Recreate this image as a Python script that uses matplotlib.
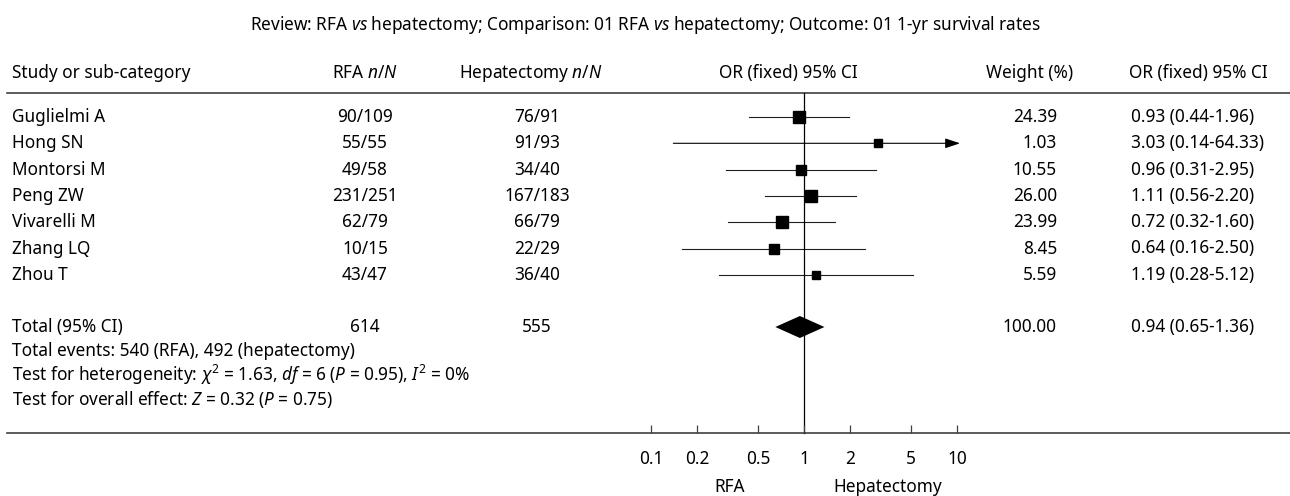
import numpy as np
import matplotlib
matplotlib.use("Agg")
import matplotlib.pyplot as plt


# data
studies = ["Guglielmi A", "Hong SN", "Montorsi M", "Peng ZW",
           "Vivarelli M", "Zhang LQ", "Zhou T"]
rfa_events = [90, 55, 49, 231, 62, 10, 43]
rfa_total = [109, 55, 58, 251, 79, 15, 47]
hep_events = [76, 91, 34, 167, 66, 22, 36]
hep_total = [91, 93, 40, 183, 79, 29, 40]
weights = [24.39, 1.03, 10.55, 26.00, 23.99, 8.45, 5.59]
odds_ratio = [0.93, 3.03, 0.96, 1.11, 0.72, 0.64, 1.19]
ci_low = [0.44, 0.14, 0.31, 0.56, 0.32, 0.16, 0.28]
ci_high = [1.96, 64.33, 2.95, 2.20, 1.60, 2.50, 5.12]

total_rfa = 614
total_hep = 555
total_weight = 100.00
total_or = 0.94
total_low = 0.65
total_high = 1.36

axis_ticks = [0.1, 0.2, 0.5, 1, 2, 5, 10]
axis_labels = ["0.1", "0.2", "0.5", "1", "2", "5", "10"]

title = ("Review: RFA $\\mathit{vs}$ hepatectomy; Comparison: 01 RFA "
         "$\\mathit{vs}$ hepatectomy; Outcome: 01 1-yr survival rates")
footer = [
    "Total events: 540 (RFA), 492 (hepatectomy)",
    "Test for heterogeneity: $\\chi^2$ = 1.63, $\\mathit{df}$ = 6 "
    "($\\mathit{P}$ = 0.95), $\\mathit{I}^2$ = 0%",
    "Test for overall effect: $\\mathit{Z}$ = 0.32 ($\\mathit{P}$ = 0.75)",
]

plt.rcParams["font.family"] = ["Noto Sans", "DejaVu Sans"]
plt.rcParams["mathtext.fontset"] = "custom"
plt.rcParams["mathtext.rm"] = "Noto Sans"
plt.rcParams["mathtext.it"] = "Noto Sans:italic"
plt.rcParams["mathtext.bf"] = "Noto Sans:bold"

FS = 12.4
W, H = 1290, 496

fig = plt.figure(figsize=(W / 100, H / 100), dpi=100)
ax = fig.add_axes([0, 0, 1, 1])
ax.set_xlim(0, W)
ax.set_ylim(H, 0)
ax.axis("off")

# log axis for the forest part, sharing the row positions
x_one, decade = 804.0, 153.0
ax2 = ax.twiny()
ax2.set_xscale("log")
ax2.set_xlim(10 ** (-x_one / decade), 10 ** ((W - x_one) / decade))
ax2.axis("off")

# layout
y_title, y_head, y_line = 25, 73, 93
y_first, row_step = 117, 26.3
y_total, foot_step = 327, 24
y_axis, y_ticklab, y_side = 433, 459, 487
rows = y_first + row_step * np.arange(len(studies))

col_study, col_rfa, col_hep, col_wt, col_or = 12, 365, 537, 1057, 1131
x_max = 10 ** ((960 - x_one) / decade)

txt = dict(fontsize=FS, va="center", color="black")

ax.text(645, y_title, title, ha="center", **txt)
ax.text(col_study, y_head, "Study or sub-category", ha="left", **txt)
ax.text(col_rfa, y_head, "RFA $\\mathit{n/N}$", ha="center", **txt)
ax.text(531, y_head, "Hepatectomy $\\mathit{n/N}$", ha="center", **txt)
ax.text(788, y_head, "OR (fixed) 95% CI", ha="center", **txt)
ax.text(1030, y_head, "Weight (%)", ha="center", **txt)
ax.text(1198, y_head, "OR (fixed) 95% CI", ha="center", **txt)

ax.plot([7, W], [y_line, y_line], color="#404040", lw=1.2)
ax.plot([7, W], [y_axis, y_axis], color="#404040", lw=1.2)

for i, y in enumerate(rows):
    ax.text(col_study, y, studies[i], ha="left", **txt)
    ax.text(col_rfa, y, "%d/%d" % (rfa_events[i], rfa_total[i]),
            ha="center", **txt)
    ax.text(col_hep, y, "%d/%d" % (hep_events[i], hep_total[i]),
            ha="center", **txt)
    ax.text(col_wt, y, "%.2f" % weights[i], ha="right", **txt)
    ax.text(col_or, y, "%.2f (%.2f-%.2f)" % (odds_ratio[i], ci_low[i],
                                             ci_high[i]), ha="left", **txt)

    hi = ci_high[i]
    if hi > x_max:
        ax2.annotate("", xy=(x_max, y), xytext=(ci_low[i], y),
                     arrowprops=dict(arrowstyle="-|>,head_length=0.9,"
                                     "head_width=0.3", color="black",
                                     lw=0.8, mutation_scale=10,
                                     shrinkA=0, shrinkB=0))
    else:
        ax2.plot([ci_low[i], hi], [y, y], color="#202020", lw=0.8)
    size = (8.0 + 0.15 * weights[i]) * 0.72
    ax2.plot(odds_ratio[i], y, marker="s", ms=size, color="black",
             mec="black", zorder=3)

# total row
ax.text(col_study, y_total, "Total (95% CI)", ha="left", **txt)
ax.text(col_rfa, y_total, str(total_rfa), ha="center", **txt)
ax.text(col_hep, y_total, str(total_hep), ha="center", **txt)
ax.text(col_wt, y_total, "%.2f" % total_weight, ha="right", **txt)
ax.text(col_or, y_total, "%.2f (%.2f-%.2f)" % (total_or, total_low,
                                               total_high), ha="left", **txt)
half = 11
ax2.fill([total_low, total_or, total_high, total_or],
         [y_total, y_total - half, y_total, y_total + half],
         color="black", lw=0, zorder=3)

for k, line in enumerate(footer):
    ax.text(col_study, y_total + foot_step * (k + 1), line, ha="left", **txt)

# null line and axis ticks
ax2.plot([1, 1], [y_line, y_axis], color="black", lw=0.9)
ax2.vlines(axis_ticks, y_axis - 8, y_axis, color="#404040", lw=0.9)
for t, lab in zip(axis_ticks, axis_labels):
    ax2.text(t, y_ticklab, lab, ha="center", **txt)
ax2.text(10 ** ((730 - x_one) / decade), y_side, "RFA", ha="center", **txt)
ax2.text(10 ** ((888 - x_one) / decade), y_side, "Hepatectomy",
         ha="center", **txt)

fig.savefig("out.png", dpi=100, facecolor="white")
